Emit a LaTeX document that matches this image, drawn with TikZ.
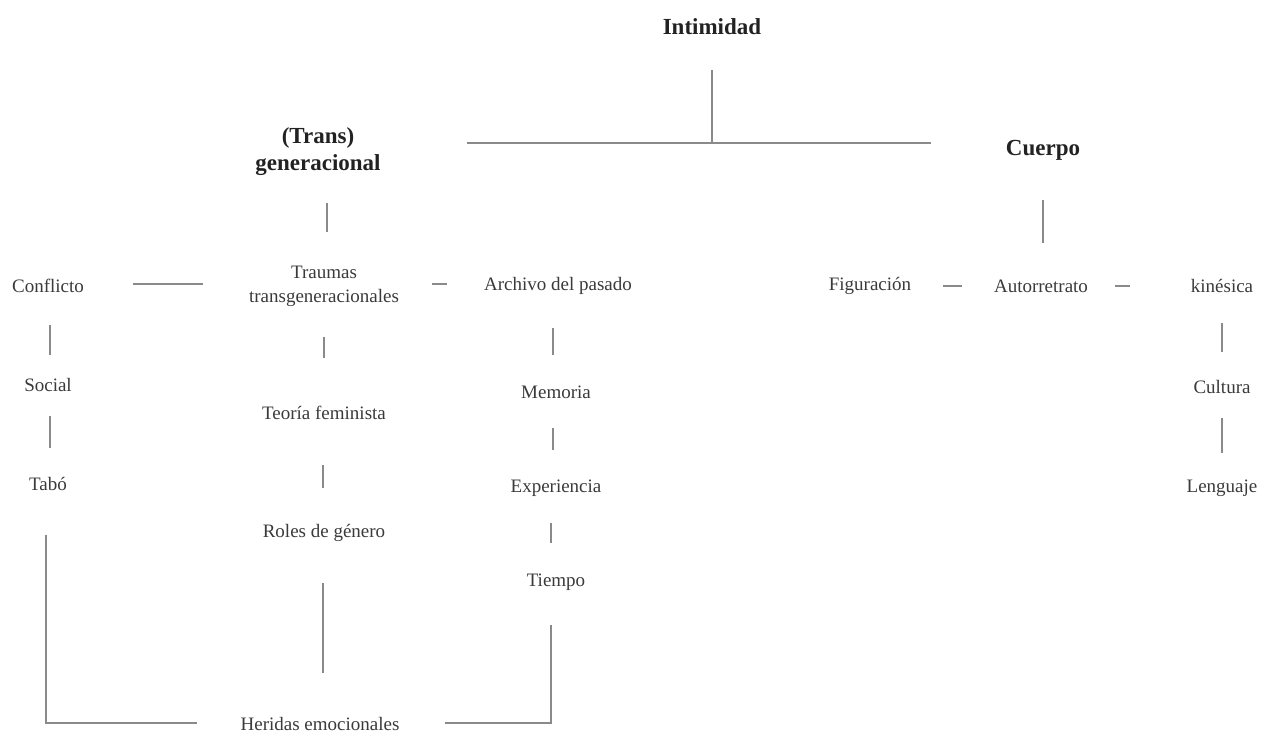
\documentclass[tikz,border=0pt]{standalone}
\usepackage{fontspec}
\setmainfont{Liberation Serif}
\definecolor{txt}{HTML}{3A3A3A}
\definecolor{hd}{HTML}{222222}
\definecolor{ln}{HTML}{8A8A8A}
\tikzset{
  lbl/.style={inner sep=0pt, text=txt, align=center, font=\fontsize{19}{24}\selectfont},
  head/.style={inner sep=0pt, text=hd, align=center, font=\bfseries\fontsize{23}{27}\selectfont},
  conn/.style={draw=ln, line width=1.2pt},
}
\begin{document}
\begin{tikzpicture}[x=1pt,y=-1pt]
\useasboundingbox (0,0) rectangle (1265,733);
% headings
\node[head] (intim) at (712,27) {Intimidad};
\node[head] (trans) at (318,152) {(Trans)\\generacional};
\node[head] (cuerpo) at (1043,150) {Cuerpo};
\coordinate (junc) at (712,143);
\coordinate (hL) at (467,143);
\coordinate (hR) at (931,143);
% row
\node[lbl] (conf) at (48,286) {Conflicto};
\node[lbl] (trau) at (324,286) {Traumas\\transgeneracionales};
\node[lbl] (arch) at (558,286) {Archivo del pasado};
\node[lbl] (figu) at (870,286) {Figuración};
\node[lbl] (auto) at (1041,286) {Autorretrato};
\node[lbl] (kine) at (1222,286) {kinésica};
% columns
\node[lbl] (soc) at (48,385) {Social};
\node[lbl] (tabo) at (48,484) {Tabó};
\node[lbl] (teor) at (324,413) {Teoría feminista};
\node[lbl] (role) at (324,533) {Roles de género};
\node[lbl] (heri) at (320,724) {Heridas emocionales};
\node[lbl] (memo) at (556,392) {Memoria};
\node[lbl] (expe) at (556,488) {Experiencia};
\node[lbl] (tiem) at (556,582) {Tiempo};
\node[lbl] (cult) at (1222,387) {Cultura};
\node[lbl] (leng) at (1222,488) {Lenguaje};
% top connectors
\draw[conn, shorten <=43pt] (intim.center) -- (junc);
\draw[conn] (hL) -- (hR);
\draw[conn, shorten <=51pt, shorten >=54pt] ([xshift=9pt]trans.center) -- ([xshift=3pt]trau.center);
\draw[conn, shorten <=50pt, shorten >=43pt] (cuerpo.center) -- ([xshift=2pt]auto.center);
% row connectors
\draw[conn, shorten <=85pt, shorten >=121pt] ([yshift=2pt]conf.center) -- ([yshift=2pt]trau.center);
\draw[conn, shorten <=108pt, shorten >=111pt] ([yshift=2pt]trau.center) -- ([yshift=2pt]arch.center);
\draw[conn, shorten <=73pt, shorten >=79pt] (figu.center) -- (auto.center);
\draw[conn, shorten <=74pt, shorten >=92pt] (auto.center) -- (kine.center);
% left column
\draw[conn, shorten <=39pt, shorten >=30pt] ([xshift=2pt]conf.center) -- ([xshift=2pt]soc.center);
\draw[conn, shorten <=31pt, shorten >=36pt] ([xshift=2pt]soc.center) -- ([xshift=2pt]tabo.center);
\draw[conn] ([shift={(-2pt,-51pt)}]tabo.center) |- ([shift={(-123pt,1pt)}]heri.center);
% middle column
\draw[conn, shorten <=51pt, shorten >=55pt] (trau.center) -- (teor.center);
\draw[conn, shorten <=52pt, shorten >=45pt] ([xshift=-1pt]teor.center) -- ([xshift=-1pt]role.center);
\draw[conn, shorten <=50pt, shorten >=51pt] ([xshift=-1pt]role.center) -- ([xshift=3pt]heri.center);
% right column
\draw[conn, shorten <=42pt, shorten >=37pt] ([xshift=-5pt]arch.center) -- ([xshift=-3pt]memo.center);
\draw[conn, shorten <=36pt, shorten >=38pt] ([xshift=-3pt]memo.center) -- ([xshift=-3pt]expe.center);
\draw[conn, shorten <=35pt, shorten >=39pt] ([xshift=-5pt]expe.center) -- ([xshift=-5pt]tiem.center);
\draw[conn] ([shift={(125pt,1pt)}]heri.center) -| ([shift={(-5pt,-43pt)}]tiem.center);
% kinesica column
\draw[conn, shorten <=37pt, shorten >=35pt] (kine.center) -- (cult.center);
\draw[conn, shorten <=31pt, shorten >=35pt] (cult.center) -- (leng.center);
\end{tikzpicture}
\end{document}
